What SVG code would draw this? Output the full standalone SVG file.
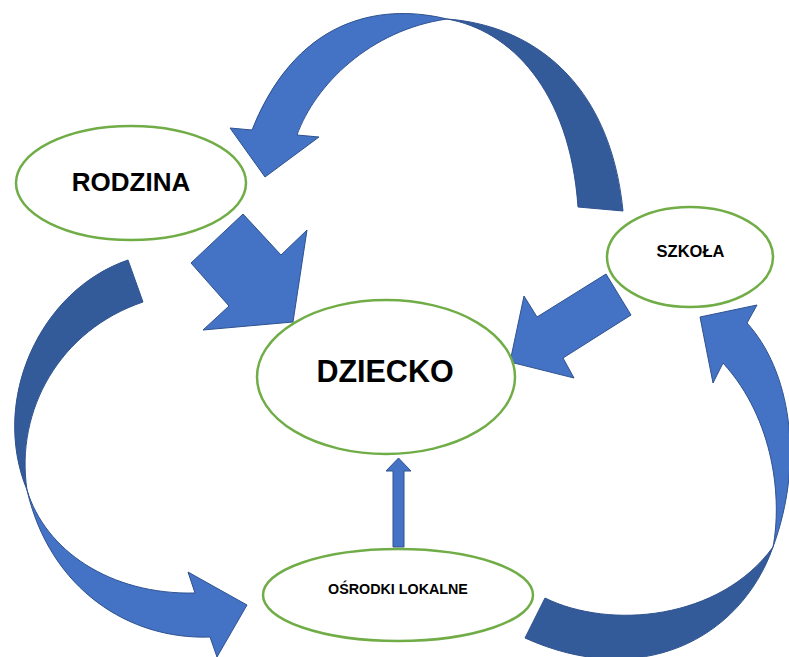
<svg xmlns="http://www.w3.org/2000/svg" width="789" height="657" viewBox="0 0 789 657">
<style>
.node{fill:#fff;stroke:#70AD47;stroke-width:2.5}
.lt{fill:#4472C4;stroke:#2F528F;stroke-width:1;stroke-linejoin:miter}
.dk{fill:#335A99;stroke:#2F528F;stroke-width:1}
.t{font-family:"Liberation Sans",Arial,sans-serif;font-weight:bold;fill:#000;text-anchor:middle}
</style>
<rect width="789" height="657" fill="#fff"/>
<g id="connectors">
<g id="arc-top">
<path class="dk" d="M447,19 C530,25 610,80 623,211 L578,207 C570,90 510,30 447,19 Z"/>
<path class="lt" d="M447,19 C390,5 300,10 252,130 L230,128 L265,177 L319,137 L297,135 C315,85 370,30 447,19 Z"/>
</g>
<g id="arc-left">
<path class="dk" d="M128,260 C40,290 -10,400 27,490 C15,410 60,330 143,302 Z"/>
<path class="lt" d="M27,490 C45,550 110,595 195,593 L188,572 L247,605 L217,657 L210,637 C130,640 50,590 27,490 Z"/>
</g>
<g id="arc-right">
<path class="dk" d="M545,598 C610,630 720,620 773,547 C740,640 640,690 525,638 Z"/>
<path class="lt" d="M773,547 C782,500 775,420 723,363 L713,383 L700,317 L757,305 L747,323 C790,370 805,460 773,547 Z"/>
</g>
<path id="rodzina-dziecko" class="lt" d="M191,263 L243,214 L281,255 L307,230 L293,322 L203,330 L229,306 Z"/>
<path id="szkola-dziecko" class="lt" d="M606,274 L631,315 L563,358 L574,378 L510,362 L524,296 L537,317 Z"/>
<path id="osrodki-dziecko" class="lt" d="M393,547 L393,471 L386,471 L398.5,458 L411,471 L404,471 L404,547 Z"/>
</g>
<g id="rodzina">
<ellipse class="node" cx="131" cy="183" rx="115" ry="57"/>
<text class="t" x="131" y="191" font-size="26">RODZINA</text>
</g>
<g id="dziecko">
<ellipse class="node" cx="386" cy="377" rx="129" ry="77"/>
<text class="t" x="385" y="382" font-size="30.5">DZIECKO</text>
</g>
<g id="szkola">
<ellipse class="node" cx="690" cy="257" rx="83" ry="50"/>
<text class="t" x="690.5" y="257" font-size="16.5">SZKOŁA</text>
</g>
<g id="osrodki">
<ellipse class="node" cx="398" cy="595" rx="135" ry="46"/>
<text class="t" x="398" y="594" font-size="14.3">OŚRODKI LOKALNE</text>
</g>
</svg>
